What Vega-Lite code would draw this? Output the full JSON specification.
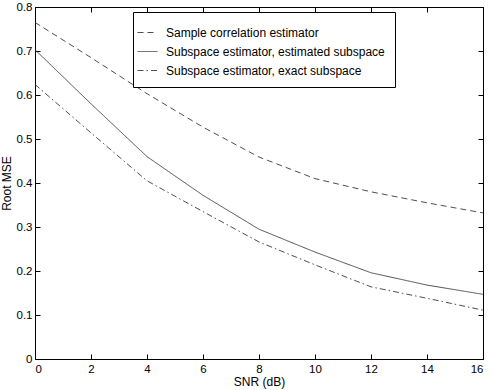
{
  "$schema": "https://vega.github.io/schema/vega-lite/v6.json",
  "width": 448,
  "height": 352,
  "autosize": {"type": "none"},
  "padding": {"left": 35, "top": 7, "right": 12, "bottom": 31},
  "background": "white",
  "config": {
    "font": "Liberation Sans",
    "view": {"stroke": null},
    "axis": {
      "grid": false,
      "domainColor": "#000000",
      "domainWidth": 1,
      "tickColor": "#000000",
      "tickWidth": 1,
      "tickSize": -5,
      "labelColor": "#000000",
      "labelFontSize": 11.5,
      "labelFont": "Liberation Sans",
      "titleFont": "Liberation Sans",
      "titleFontSize": 12,
      "titleFontWeight": "normal",
      "titleColor": "#000000"
    }
  },
  "data": {
    "values": [
      {"snr": 0, "rmse": 0.765, "method": "Sample correlation estimator"},
      {"snr": 2, "rmse": 0.685, "method": "Sample correlation estimator"},
      {"snr": 4, "rmse": 0.603, "method": "Sample correlation estimator"},
      {"snr": 6, "rmse": 0.527, "method": "Sample correlation estimator"},
      {"snr": 8, "rmse": 0.459, "method": "Sample correlation estimator"},
      {"snr": 10, "rmse": 0.41, "method": "Sample correlation estimator"},
      {"snr": 12, "rmse": 0.38, "method": "Sample correlation estimator"},
      {"snr": 14, "rmse": 0.355, "method": "Sample correlation estimator"},
      {"snr": 16, "rmse": 0.332, "method": "Sample correlation estimator"},
      {"snr": 0, "rmse": 0.703, "method": "Subspace estimator, estimated subspace"},
      {"snr": 2, "rmse": 0.58, "method": "Subspace estimator, estimated subspace"},
      {"snr": 4, "rmse": 0.46, "method": "Subspace estimator, estimated subspace"},
      {"snr": 6, "rmse": 0.372, "method": "Subspace estimator, estimated subspace"},
      {"snr": 8, "rmse": 0.295, "method": "Subspace estimator, estimated subspace"},
      {"snr": 10, "rmse": 0.243, "method": "Subspace estimator, estimated subspace"},
      {"snr": 12, "rmse": 0.196, "method": "Subspace estimator, estimated subspace"},
      {"snr": 14, "rmse": 0.168, "method": "Subspace estimator, estimated subspace"},
      {"snr": 16, "rmse": 0.147, "method": "Subspace estimator, estimated subspace"},
      {"snr": 0, "rmse": 0.624, "method": "Subspace estimator, exact subspace"},
      {"snr": 2, "rmse": 0.514, "method": "Subspace estimator, exact subspace"},
      {"snr": 4, "rmse": 0.405, "method": "Subspace estimator, exact subspace"},
      {"snr": 6, "rmse": 0.335, "method": "Subspace estimator, exact subspace"},
      {"snr": 8, "rmse": 0.266, "method": "Subspace estimator, exact subspace"},
      {"snr": 10, "rmse": 0.214, "method": "Subspace estimator, exact subspace"},
      {"snr": 12, "rmse": 0.164, "method": "Subspace estimator, exact subspace"},
      {"snr": 14, "rmse": 0.138, "method": "Subspace estimator, exact subspace"},
      {"snr": 16, "rmse": 0.111, "method": "Subspace estimator, exact subspace"}
    ]
  },
  "resolve": {"axis": {"x": "independent", "y": "independent"}},
  "layer": [
    {
      "mark": {"type": "line", "color": "#3a3a3a", "strokeWidth": 0.9},
      "encoding": {
        "x": {
          "field": "snr", "type": "quantitative",
          "scale": {"domain": [0, 16], "nice": false},
          "axis": {"orient": "bottom", "values": [0, 2, 4, 6, 8, 10, 12, 14, 16], "title": "SNR (dB)", "labelPadding": 9, "titlePadding": 2}
        },
        "y": {
          "field": "rmse", "type": "quantitative",
          "scale": {"domain": [0, 0.8], "nice": false},
          "axis": {"orient": "left", "values": [0, 0.1, 0.2, 0.3, 0.4, 0.5, 0.6, 0.7, 0.8], "format": ".1~f", "title": "Root MSE", "labelPadding": 8, "titlePadding": 3}
        },
        "strokeDash": {
          "field": "method", "type": "nominal",
          "scale": {
            "domain": ["Sample correlation estimator", "Subspace estimator, estimated subspace", "Subspace estimator, exact subspace"],
            "range": [[6, 4], [1, 0], [6, 3, 1.5, 3]]
          },
          "legend": {
            "title": null,
            "orient": "none",
            "legendX": 98,
            "legendY": 5,
            "fillColor": "white",
            "strokeColor": "#000000",
            "padding": 10,
            "symbolType": "stroke",
            "symbolSize": 400,
            "symbolStrokeColor": "#3a3a3a",
            "symbolStrokeWidth": 0.9,
            "symbolOffset": -6,
            "labelOffset": 8,
            "labelFontSize": 12,
            "labelFont": "Liberation Sans",
            "labelColor": "#000000",
            "labelLimit": 0,
            "rowPadding": 2
          }
        }
      }
    },
    {
      "mark": {"type": "point", "opacity": 0},
      "encoding": {
        "x": {
          "field": "snr", "type": "quantitative",
          "axis": {"orient": "top", "values": [0, 2, 4, 6, 8, 10, 12, 14, 16], "labels": false, "title": null}
        },
        "y": {
          "field": "rmse", "type": "quantitative",
          "axis": {"orient": "right", "values": [0, 0.1, 0.2, 0.3, 0.4, 0.5, 0.6, 0.7, 0.8], "labels": false, "title": null}
        }
      }
    }
  ]
}
